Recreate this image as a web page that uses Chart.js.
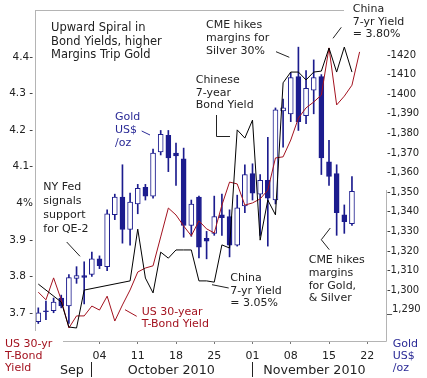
<!DOCTYPE html>
<html><head><meta charset="utf-8">
<script src="https://cdn.jsdelivr.net/npm/chart.js@4.4.1/dist/chart.umd.min.js"></script>
<style>html,body{margin:0;padding:0;background:#fff;}#wrap{width:427px;height:378px;}</style>
</head><body><div id="wrap"><canvas id="c" width="427" height="378"></canvas></div>
<script>
// Trading days (x positions are the index in this list)
const dates = ['Sep 22','Sep 23','Sep 24','Sep 27','Sep 28','Sep 29','Sep 30','Oct 01',
  'Oct 04','Oct 05','Oct 06','Oct 07','Oct 08','Oct 11','Oct 12','Oct 13','Oct 14','Oct 15',
  'Oct 18','Oct 19','Oct 20','Oct 21','Oct 22','Oct 25','Oct 26','Oct 27','Oct 28','Oct 29',
  'Nov 01','Nov 02','Nov 03','Nov 04','Nov 05','Nov 08','Nov 09','Nov 10','Nov 11','Nov 12',
  'Nov 15','Nov 16','Nov 17','Nov 18','Nov 19','Nov 22'];

// Gold US$/oz daily candles
const goldOpen  = [1284,1289.5,1289.5,1296,1292,1306,1307.5,1308,1316,1312,1338.5,1347.5,1331,1344,1352.5,1348,1370.5,1379,1370,1367,1333,1347.5,1326.5,1329,1338.5,1337.5,1323,1343,1359.5,1349,1356,1346,1391.5,1390,1409,1389,1402,1409,1365.5,1359.5,1338.5,1334];
const goldHigh  = [1291,1294.5,1296,1297.5,1308,1312,1314.5,1319.5,1317.5,1341,1349,1364,1349.5,1354,1354,1372,1381.5,1381.5,1375,1372.5,1346,1348,1330,1348,1349,1341,1348.5,1364,1364.5,1359,1378,1393,1397.5,1411,1424,1412,1417.5,1410,1376.5,1364,1343.5,1358];
const goldLow   = [1283,1285,1288.5,1291,1283,1303.5,1293,1307,1311,1310,1336,1324,1323,1339,1346,1347,1369,1360.5,1353.5,1327,1327.5,1316.5,1316,1328,1328,1317,1322.5,1339.5,1346,1328,1322.5,1344,1373,1386,1381.5,1385,1390,1359,1353.5,1328,1329,1333];
const goldClose = [1288.5,1289,1294,1292,1306.5,1307.5,1306.5,1316,1312.5,1339,1347.5,1331,1345,1352,1348,1370,1379.5,1367.5,1368.5,1333,1344,1322,1325,1337.5,1337,1323,1342,1359,1349.5,1356,1347,1392,1393,1408.5,1386,1403,1408.5,1367.5,1358,1339.5,1335,1350.5];

// US 30-year T-Bond yield (%)
const us30y = [3.757,3.736,3.796,3.736,3.659,3.692,3.692,3.719,3.708,3.746,3.678,3.722,3.763,3.812,3.823,3.829,3.908,3.987,3.968,3.938,3.911,3.952,3.930,3.919,3.995,4.058,4.053,3.995,4.001,4.012,4.036,4.124,4.127,4.173,4.233,4.261,4.277,4.296,4.425,4.269,4.293,4.323,4.414];

// China 7-year bond yield (%), null = China market holiday
const china7y = [3.053,null,null,2.996,2.917,2.914,3.034,null,null,null,null,null,3.063,3.227,3.072,3.025,3.154,3.135,3.161,3.161,3.161,3.063,3.063,3.059,3.177,3.167,3.541,3.515,3.572,3.192,3.319,3.272,3.690,3.724,3.724,3.699,3.724,3.727,3.800,3.724,3.803,3.724];

// Axis ticks
const xTickDates  = ['Oct 04','Oct 11','Oct 18','Oct 25','Nov 01','Nov 08','Nov 15','Nov 22'];
const xTickLabels = ['04','11','18','25','01','08','15','22'];
const leftTickValues = [3.7,3.8,3.9,4.0,4.1,4.2,4.3,4.4];
const leftTickLabels = ['3.7 -','3.8 -','3.9 -','4%','4.1-','4.2 -','4.3 -','4.4-'];
const rightTickValues = [1290,1300,1310,1320,1330,1340,1350,1360,1370,1380,1390,1400,1410,1420];
const rightTickLabels = ['_1,290','-1,300','-1,310','-1,320','-1,330','-1,340','-1,350','-1,360','-1,370','-1,380','-1,390','-1400','-1410','-1420'];

const NAVY = '#1c1c8e';
const RED = '#a3121f';
const FONT = '"DejaVu Sans", Verdana, sans-serif';
const xTickIdx = xTickDates.map(d => dates.indexOf(d));

const bodyData = goldOpen.map((o,i) => ({x:i, y:[o, goldClose[i]]}));
const wickData = goldLow.map((l,i) => ({x:i, y:[l, goldHigh[i]]}));
const usData = us30y.map((v,i) => ({x:i, y:v}));
const cnData = china7y.map((v,i) => ({x:i, y:v}));

const annot = {
  id: 'annot',
  afterDraw(chart) {
    const ctx = chart.ctx;
    ctx.save();
    const line = (pts, color) => {
      ctx.strokeStyle = color; ctx.lineWidth = 1; ctx.beginPath();
      pts.forEach((p,i) => i ? ctx.lineTo(p[0],p[1]) : ctx.moveTo(p[0],p[1]));
      ctx.stroke();
    };
    const text = (lines, x, y0, lh, color, size) => {
      ctx.fillStyle = color; ctx.font = size + 'px ' + FONT;
      ctx.textAlign = 'left'; ctx.textBaseline = 'alphabetic';
      lines.forEach((s,i) => ctx.fillText(s, x, y0 + i*lh));
    };
    // frame
    const G = '#b4b4b4';
    line([[35.5,10],[35.5,331]], G);
    line([[35.5,10.5],[344,10.5]], G);
    line([[63,341.5],[386.5,341.5]], G);
    line([[386.5,190],[386.5,341.5]], G);

    const K = '#222';
    text(['Upward Spiral in','Bond Yields, higher','Margins Trip Gold'], 51, 31, 13.5, K, 11.5);
    text(['CME hikes','margins for','Silver 30%'], 206, 28.3, 12.7, K, 11);
    line([[276,51.7],[289.3,57.3]], K);
    text(['Chinese','7-year','Bond Yield'], 195.7, 83.3, 12.5, K, 11);
    line([[216.5,115],[216.5,136.5],[230,136.5]], K);
    text(['China','7-yr Yield','= 3.80%'], 352.7, 11.7, 12.8, K, 11);
    line([[333,38.3],[341.3,27.3]], K);
    text(['Gold','US$','/oz'], 115, 120, 12.8, '#2a2a96', 11);
    line([[141.7,131],[150,135]], '#2a2a96');
    text(['NY Fed','signals','support','for QE-2'], 43.3, 189.7, 14.1, K, 11);
    line([[66.7,242],[80,256.3]], K);
    text(['US 30-year','T-Bond Yield'], 141.7, 314.7, 12.6, RED, 11);
    line([[125,309.7],[136.7,316.3]], RED);
    text(['China','7-yr Yield','= 3.05%'], 230.3, 280.7, 12.8, K, 11);
    line([[212,284.7],[228.7,288]], K);
    text(['CME hikes','margins','for Gold,','& Silver'], 308.7, 263, 12.8, K, 11);
    line([[330.3,228],[321.3,239.7],[329.3,249.7]], K);
    text(['US 30-yr','T-Bond','Yield'], 5, 346.7, 12, RED, 11);
    text(['Gold','US$','/oz'], 392.7, 346.7, 12, '#2a2a96', 11);
    // month row
    ctx.fillStyle = K; ctx.font = '12.7px ' + FONT;
    ctx.fillText('Sep', 60, 374);
    ctx.fillText('October 2010', 127.7, 374);
    ctx.fillText('November 2010', 263.3, 374);
    line([[91.5,362],[91.5,377]], K);
    line([[252.5,362],[252.5,377]], K);
    ctx.restore();
  }
};

new Chart(document.getElementById('c'), {
  type: 'bar',
  data: {
    datasets: [
      {type:'line', data: cnData, yAxisID:'yC', borderColor:'#000', borderWidth:1, pointRadius:0, tension:0, spanGaps:true, order:0},
      {type:'line', data: usData, yAxisID:'yL', borderColor:RED, borderWidth:1, pointRadius:0, tension:0, order:0},
      {type:'bar', data: bodyData, yAxisID:'yR', grouped:false, barThickness:5, borderWidth:1, borderSkipped:false,
        borderColor:NAVY,
        backgroundColor: c => (goldClose[c.dataIndex] >= goldOpen[c.dataIndex] ? '#ffffff' : NAVY), order:1},
      {type:'bar', data: wickData, yAxisID:'yR', grouped:false, barThickness:1, borderWidth:0, backgroundColor:NAVY, order:2}
    ]
  },
  options: {
    responsive:false, animation:false, events:[],
    layout:{padding:{top:10,left:0,right:0,bottom:0}},
    plugins:{legend:{display:false}, tooltip:{enabled:false}, title:{display:false}},
    scales:{
      x:{type:'linear', position:'bottom', min:-0.3, max:45.45, offset:false,
        afterBuildTicks: s => { s.ticks = xTickIdx.map(v => ({value:v})); },
        afterFit: s => { s.height = 37; },
        grid:{display:true, drawOnChartArea:false, drawTicks:true, tickLength:3, color:'#777', offset:false},
        border:{display:false},
        ticks:{callback: v => xTickLabels[xTickIdx.indexOf(v)] ?? '', font:{family:FONT, size:11}, color:'#222', padding:6, maxRotation:0, autoSkip:false}},
      yL:{type:'linear', position:'left', min:3.6234, max:4.5286,
        afterBuildTicks: s => { s.ticks = leftTickValues.map(v => ({value:v})); },
        afterFit: s => { s.width = 36; },
        grid:{display:false, drawTicks:false}, border:{display:false},
        ticks:{callback: (v,i) => leftTickLabels[i], font:{family:FONT, size:10.5}, color:'#222', padding:3}},
      yR:{type:'linear', position:'right', min:1274.08, max:1442.96,
        afterBuildTicks: s => { s.ticks = rightTickValues.map(v => ({value:v})); },
        afterFit: s => { s.width = 41; },
        grid:{display:false, drawTicks:false}, border:{display:false},
        ticks:{callback: (v,i) => rightTickLabels[i], font:{family:FONT, size:10}, color:'#222', padding:1}},
      yC:{type:'linear', display:false, min:2.8728, max:3.9204}
    }
  },
  plugins:[annot]
});
</script>
</body></html>
